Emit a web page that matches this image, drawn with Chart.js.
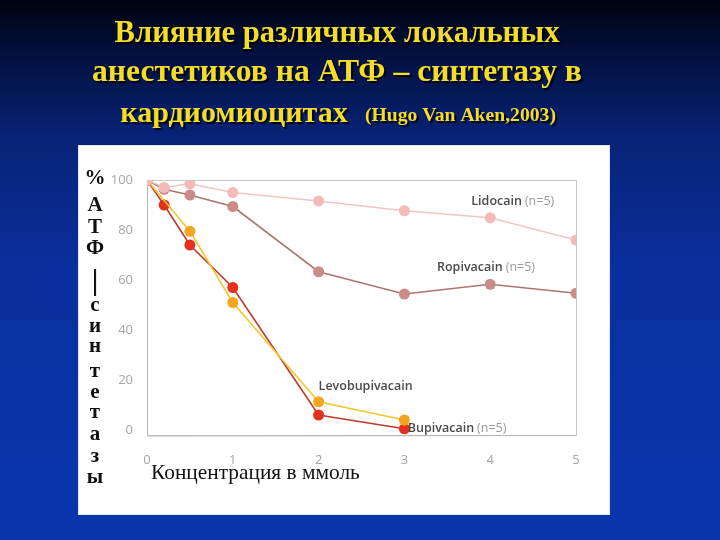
<!DOCTYPE html>
<html>
<head>
<meta charset="utf-8">
<script src="https://cdn.jsdelivr.net/npm/chart.js@4.4.1/dist/chart.umd.min.js"></script>
<style>
html,body{margin:0;padding:0;background:#0a2a8a;}
#wrap{position:relative;width:720px;height:540px;}
</style>
</head>
<body>
<div id="wrap"><canvas id="c"></canvas></div>
<script>
// ---- data ----
const titleLines = ["Влияние различных локальных", "анестетиков на АТФ – синтетазу в", "кардиомиоцитах", "(Hugo Van Aken,2003)"];
const yTitleChars = ["%", "А", "Т", "Ф", "|", "с", "и", "н", "т", "е", "т", "а", "з", "ы"];
const xTitle = "Концентрация в ммоль";
const seriesNames = ["Lidocain", "Ropivacain", "Levobupivacain", "Bupivacain"];
const seriesNotes = ["(n=5)", "(n=5)", "", "(n=5)"];

const concLidocain = [0, 0.2, 0.5, 1, 2, 3, 4, 5];
const lidocain = [100, 97, 98.5, 95, 91.6, 87.7, 84.9, 76];
const concRopivacain = [0, 0.2, 0.5, 1, 2, 3, 4, 5];
const ropivacain = [100, 96.3, 94, 89.4, 63.3, 54.4, 58.3, 54.7];
const concLevobupivacain = [0, 0.5, 1, 2, 3];
const levobupivacain = [100, 79.5, 51, 11.3, 4];
const concBupivacain = [0, 0.2, 0.5, 1, 2, 3];
const bupivacain = [100, 90, 74, 57, 6, 0.5];

const xTicks = [0, 1, 2, 3, 4, 5];
const yTicks = [0, 20, 40, 60, 80, 100];

// ---- helpers ----
const pts = (xs, ys) => xs.map((x, i) => ({x: x, y: ys[i]}));

function fitFont(ctx, text, weight, family, width) {
  ctx.font = weight + " 100px " + family;
  const w = ctx.measureText(text).width;
  return 100 * width / w;
}

const decorPlugin = {
  id: 'decor',
  beforeDraw(chart) {
    const ctx = chart.ctx;
    ctx.save();
    // background
    const g = ctx.createLinearGradient(0, 0, 0, 540);
    g.addColorStop(0, '#00030f');
    g.addColorStop(0.1, '#03103e');
    g.addColorStop(0.25, '#082275');
    g.addColorStop(0.5, '#0a2f9e');
    g.addColorStop(1, '#0a36ad');
    ctx.fillStyle = g;
    ctx.fillRect(0, 0, 720, 540);
    // white panel
    ctx.fillStyle = '#ffffff';
    ctx.fillRect(78, 145, 532, 370);
    ctx.strokeStyle = '#dbe8f6';
    ctx.lineWidth = 1;
    ctx.strokeRect(78.5, 145.5, 531, 369);
    // title
    const fam = '"Liberation Serif", "Times New Roman", serif';
    ctx.textBaseline = 'alphabetic';
    ctx.shadowColor = 'rgba(0,0,0,0.9)';
    ctx.shadowOffsetX = 2;
    ctx.shadowOffsetY = 2;
    ctx.shadowBlur = 1;
    ctx.fillStyle = '#f3dc2a';
    ctx.textAlign = 'center';
    let s = fitFont(ctx, titleLines[0], 'bold', fam, 445);
    ctx.font = 'bold ' + s + 'px ' + fam;
    ctx.fillText(titleLines[0], 337, 42);
    s = fitFont(ctx, titleLines[1], 'bold', fam, 490);
    ctx.font = 'bold ' + s + 'px ' + fam;
    ctx.fillText(titleLines[1], 337, 81);
    ctx.textAlign = 'left';
    s = Math.min(30, fitFont(ctx, titleLines[2], 'bold', fam, 242));
    ctx.font = 'bold ' + s + 'px ' + fam;
    const w2 = ctx.measureText(titleLines[2]).width;
    ctx.fillText(titleLines[2], 113 + (242 - w2) / 2, 122);
    s = fitFont(ctx, titleLines[3], 'bold', fam, 191);
    ctx.font = 'bold ' + s + 'px ' + fam;
    ctx.fillText(titleLines[3], 365, 121);
    ctx.restore();
  },
  beforeDatasetsDraw(chart) {
    const ctx = chart.ctx;
    const a = chart.chartArea;
    ctx.save();
    ctx.strokeStyle = '#c9c9c9';
    ctx.lineWidth = 1;
    ctx.strokeRect(Math.round(a.left) + 0.5, Math.round(a.top) + 0.5, Math.round(a.right - a.left), Math.round(a.bottom - a.top));
    ctx.strokeStyle = '#b4b4b4';
    ctx.beginPath();
    ctx.moveTo(Math.round(a.left) + 0.5, a.top);
    ctx.lineTo(Math.round(a.left) + 0.5, a.bottom + 1);
    ctx.lineTo(a.right, Math.round(a.bottom) + 0.5);
    ctx.stroke();
    ctx.restore();
  },
  afterDraw(chart) {
    const ctx = chart.ctx;
    const xs = chart.scales.x, ys = chart.scales.y;
    ctx.save();
    // vertical y-title
    const fam = '"Liberation Serif", "Times New Roman", serif';
    const yPos = [179, 206, 228, 249, 282, 306, 327, 347, 372, 393, 413, 435, 457, 478];
    ctx.fillStyle = '#111111';
    ctx.textAlign = 'center';
    ctx.textBaseline = 'middle';
    yTitleChars.forEach((ch, i) => {
      ctx.font = 'bold 21px ' + fam;
      if (ch === '|') ctx.font = 'bold 30px ' + fam;
      ctx.fillText(ch, 95, yPos[i]);
    });
    // x title
    ctx.textAlign = 'left';
    ctx.textBaseline = 'alphabetic';
    const s = fitFont(ctx, xTitle, 'normal', fam, 209);
    ctx.font = s + 'px ' + fam;
    ctx.fillStyle = '#111111';
    ctx.fillText(xTitle, 151, 479);
    // series labels anchored in data units
    const anchors = [[3.78, 91.3], [3.38, 65.2], [2.0, 17.3], [3.04, 0.8]];
    const sfam = '"Open Sans", "Liberation Sans", sans-serif';
    ctx.textBaseline = 'middle';
    seriesNames.forEach((nm, i) => {
      const px = xs.getPixelForValue(anchors[i][0]);
      const py = ys.getPixelForValue(anchors[i][1]);
      ctx.font = '600 12.5px ' + sfam;
      ctx.fillStyle = '#4a4a4a';
      ctx.fillText(nm, px, py);
      const w = ctx.measureText(nm).width;
      if (seriesNotes[i]) {
        ctx.font = '12.5px ' + sfam;
        ctx.fillStyle = '#9a9a9a';
        ctx.fillText(seriesNotes[i], px + w + 3, py);
      }
    });
    ctx.restore();
  }
};

const ds = (label, xsA, ysA, line, point) => ({
  label: label,
  data: pts(xsA, ysA),
  borderColor: line,
  backgroundColor: point,
  pointBackgroundColor: point,
  pointBorderWidth: 0,
  pointRadius: 5.5,
  borderWidth: 1.6,
  tension: 0,
  fill: false
});

new Chart(document.getElementById('c'), {
  type: 'line',
  data: {
    datasets: [
      ds(seriesNames[0], concLidocain, lidocain, '#f1c6c0', '#f4b9b9'),
      ds(seriesNames[1], concRopivacain, ropivacain, '#ad7470', '#c98c88'),
      ds(seriesNames[2], concLevobupivacain, levobupivacain, '#f2c631', '#f5a61f'),
      ds(seriesNames[3], concBupivacain, bupivacain, '#bf3b2c', '#e5301e')
    ]
  },
  options: {
    responsive: true,
    maintainAspectRatio: false,
    animation: false,
    layout: {padding: {left: 0, top: 180, right: 144, bottom: 0}},
    plugins: {legend: {display: false}, tooltip: {enabled: false}},
    scales: {
      x: {
        type: 'linear',
        min: 0, max: 5,
        afterFit(scale) { scale.height = 105; },
        afterBuildTicks(scale) { scale.ticks = xTicks.map(v => ({value: v})); },
        grid: {display: false},
        border: {display: false},
        ticks: {color: '#a6a6a6', padding: 9, font: {family: '"Open Sans", sans-serif', size: 13}}
      },
      y: {
        min: -2, max: 100,
        afterFit(scale) { scale.width = 147; },
        afterBuildTicks(scale) { scale.ticks = yTicks.map(v => ({value: v})); },
        grid: {display: false},
        border: {display: false},
        ticks: {color: '#a6a6a6', padding: 6, font: {family: '"Open Sans", sans-serif', size: 13}}
      }
    }
  },
  plugins: [decorPlugin]
});
</script>
</body>
</html>
